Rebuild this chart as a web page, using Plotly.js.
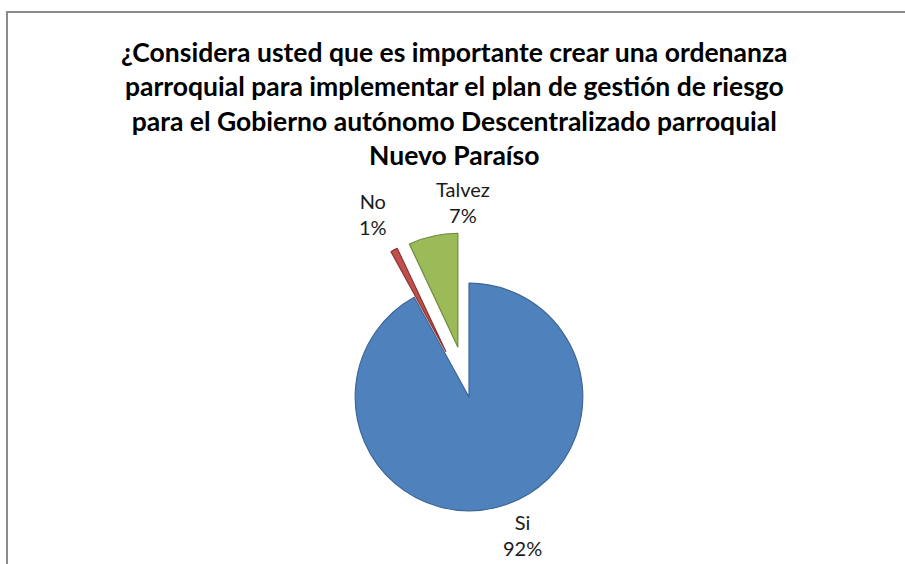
<!DOCTYPE html>
<html>
<head>
<meta charset="utf-8">
<script src="https://cdn.plot.ly/plotly-3.0.1.min.js"></script>
<style>
  html, body { margin: 0; padding: 0; background: #fff; }
  #frame { position: absolute; left: 6px; top: 11px; width: 905px; height: 564px;
           border-left: 2px solid #8c8c8c; border-top: 2px solid #8c8c8c; }
  #chart { position: absolute; left: 0; top: 0; width: 905px; height: 564px; }
</style>
</head>
<body>
<div id="frame"></div>
<div id="chart"></div>
<script>
var categories = ["Si", "No", "Talvez"];
var values = [92, 1, 7];
var colors = ["#4F81BD", "#C0504D", "#9BBB59"];
var edgeColors = ["#3E6797", "#8E3533", "#6E8A3C"];
var pulls = [0, 0.45, 0.45];
var titleLines = [
  "¿Considera usted que es importante crear una ordenanza",
  "parroquial para implementar el plan de gestión de riesgo",
  "para el Gobierno autónomo Descentralizado parroquial",
  "Nuevo Paraíso"
];

var W = 905, H = 564;
var total = values.reduce(function (a, b) { return a + b; }, 0);
function pctText(i) { return categories[i] + "<br>" + Math.round(100 * values[i] / total) + "%"; }

var trace = {
  type: "pie",
  labels: categories,
  values: values,
  sort: false,
  direction: "clockwise",
  rotation: 0,
  pull: pulls,
  marker: { colors: colors, line: { color: edgeColors, width: 1.2 } },
  textinfo: "none",
  automargin: false,
  showlegend: false,
  hoverinfo: "label+percent",
  domain: { x: [304 / W, 634 / W], y: [1 - 562 / H, 1 - 232 / H] }
};

// label placement (paper fractions) for each category's data label
var labelPos = [[522 / W, 1 - 535 / H], [373 / W, 1 - 214 / H], [463 / W, 1 - 202 / H]];
var labelFont = { family: "Lato, 'Open Sans', sans-serif", size: 20, color: "#1a1a1a" };
var annotations = categories.map(function (c, i) {
  return {
    text: pctText(i), xref: "paper", yref: "paper",
    x: labelPos[i][0], y: labelPos[i][1], xanchor: "center", yanchor: "middle",
    showarrow: false, align: "center", font: labelFont
  };
});

var layout = {
  width: W, height: H,
  margin: { l: 0, r: 0, t: 0, b: 0 },
  paper_bgcolor: "rgba(0,0,0,0)",
  plot_bgcolor: "rgba(0,0,0,0)",
  showlegend: false,
  annotations: annotations,
  title: {
    text: "<b>" + titleLines.join("<br>") + "</b>",
    font: { family: "Lato, 'Open Sans', sans-serif", size: 26.5, color: "#000" },
    x: 0.502, xanchor: "center",
    y: 1 - 62 / H, yanchor: "top", yref: "container"
  }
};

Plotly.newPlot("chart", [trace], layout, { displayModeBar: false, staticPlot: true });
</script>
</body>
</html>
